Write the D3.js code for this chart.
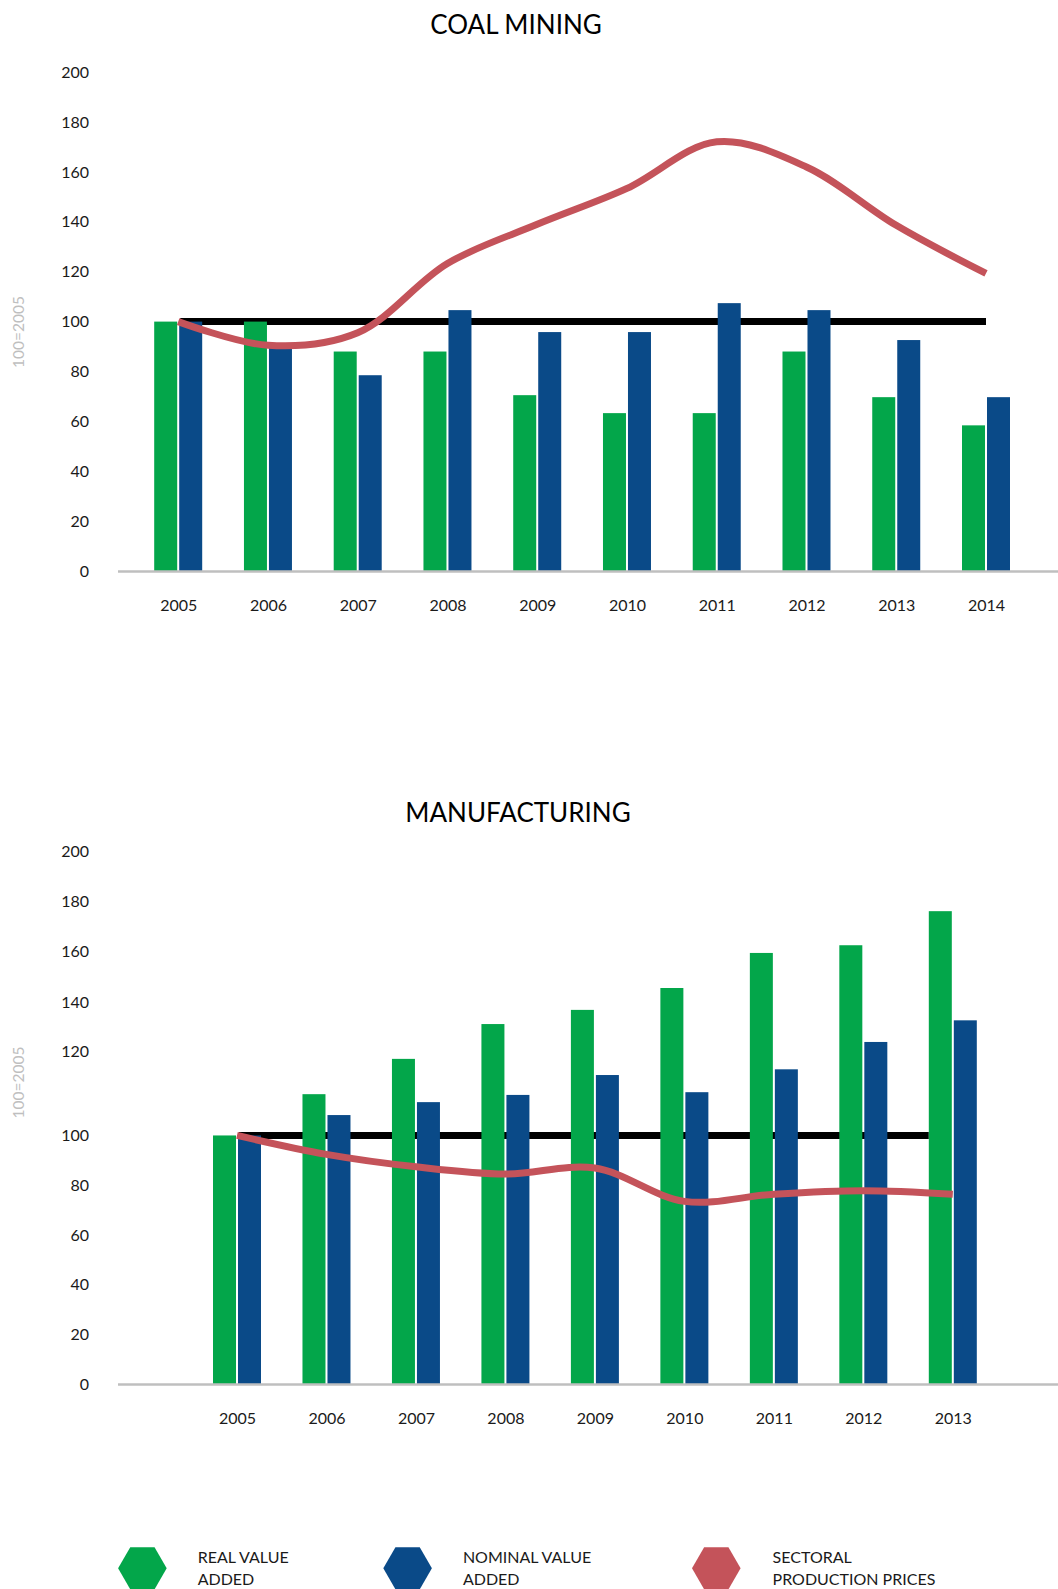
<!DOCTYPE html>
<html>
<head>
<meta charset="utf-8">
<script src="https://cdn.jsdelivr.net/npm/d3@7"></script>
<style>
  html, body { margin: 0; padding: 0; background: #ffffff; }
  svg { display: block; font-family: Lato, "Open Sans", sans-serif; }
</style>
</head>
<body>
<svg id="chart" width="1058" height="1589"></svg>
<script>
// ---------- DATA ----------
const coalYears = ["2005","2006","2007","2008","2009","2010","2011","2012","2013","2014"];
const coalReal = [100, 100, 88, 88, 70.5, 63.3, 63.3, 88, 69.7, 58.4];
const coalNominal = [100, 90, 78.5, 104.6, 95.8, 95.8, 107.4, 104.6, 92.6, 69.7];
const coalPrices = [100, 90.5, 95.5, 123.3, 139, 153.4, 172.1, 162.0, 138.6, 119.3];
const coalReference = [100, 100, 100, 100, 100, 100, 100, 100, 100, 100];
const coalTickValues = [0, 20, 40, 60, 80, 100, 120, 140, 160, 180, 200];
const coalTickLabels = ["0","20","40","60","80","100","120","140","160","180","200"];

const mfgYears = ["2005","2006","2007","2008","2009","2010","2011","2012","2013"];
const mfgReal = [100, 116.6, 130.8, 144.8, 150.5, 159.3, 173.4, 176.5, 190.2];
const mfgNominal = [100, 108.2, 113.4, 116.3, 124.3, 117.4, 126.6, 137.6, 146.3];
const mfgPrices = [100, 92.4, 87.4, 84.5, 86.9, 73.5, 76.4, 77.8, 76.4];
const mfgReference = [100, 100, 100, 100, 100, 100, 100, 100, 100];
// the manufacturing axis labels above 100 sit off the linear grid in the original
const mfgTickValues = [0, 20, 40, 60, 80, 100, 133.7, 153.7, 173.9, 194, 214.4];
const mfgTickLabels = ["0","20","40","60","80","100","120","140","160","180","200"];

const legendLabels = [["REAL VALUE","ADDED"],["NOMINAL VALUE","ADDED"],["SECTORAL","PRODUCTION PRICES"]];
const unitLabel = "100=2005";

// ---------- STYLE ----------
const GREEN = "#03A64A";
const BLUE = "#0A4A88";
const RED = "#C4535A";
const BLACK = "#000000";
const AXIS_GREY = "#BFBFBF";
const TEXT = "#1A1A1A";

const svg = d3.select("#chart");

function drawChart(cfg) {
  const g = svg.append("g");
  const x = d3.scalePoint().domain(cfg.years).range(cfg.xRange);
  const inner = d3.scaleBand().domain(["real","nominal"]).range([-24, 24]).paddingInner(0.08);
  const y = d3.scaleLinear().domain(cfg.yDomain).range(cfg.yRange);
  const base = y(0);

  // title
  g.append("text")
    .attr("x", cfg.titleX).attr("y", cfg.titleY)
    .attr("text-anchor", "middle")
    .attr("font-size", 26)
    .attr("fill", "#000")
    .text(cfg.title);

  // unit label
  g.append("text")
    .attr("transform", `translate(${cfg.unitX},${cfg.unitY}) rotate(-90)`)
    .attr("text-anchor", "middle")
    .attr("dy", "0.36em")
    .attr("font-size", 15.5)
    .attr("fill", AXIS_GREY)
    .text(unitLabel);

  // y axis (labels only)
  const yAxis = d3.axisLeft(y)
    .tickValues(cfg.tickValues)
    .tickFormat((d, i) => cfg.tickLabels[i])
    .tickSize(0).tickPadding(0);
  const ya = g.append("g").attr("transform", `translate(89,0)`).call(yAxis);
  ya.select(".domain").remove();
  ya.selectAll("text").attr("font-size", 16).attr("fill", TEXT).attr("font-family", "Lato, sans-serif");

  // reference line at 100
  const last = cfg.years.length - 1;
  const refX = (i) => {
    const cx = x(cfg.years[i]);
    if (i === 0) return cx + 2;
    if (i === last && cfg.refEndAtBar) return cx + inner("real");
    return cx;
  };
  const refLine = d3.line().x((d, i) => refX(i)).y(d => y(d));
  g.append("path")
    .datum(cfg.reference)
    .attr("d", refLine)
    .attr("fill", "none")
    .attr("stroke", BLACK)
    .attr("stroke-width", 7);

  // bars
  const rows = cfg.years.map((yr, i) => ({ year: yr, real: cfg.real[i], nominal: cfg.nominal[i] }));
  const grp = g.append("g").selectAll("g").data(rows).join("g")
    .attr("transform", d => `translate(${x(d.year)},0)`);
  grp.selectAll("rect")
    .data(d => [{ key: "real", v: d.real }, { key: "nominal", v: d.nominal }])
    .join("rect")
    .attr("x", d => inner(d.key))
    .attr("width", inner.bandwidth())
    .attr("y", d => y(d.v))
    .attr("height", d => base - y(d.v))
    .attr("fill", d => d.key === "real" ? GREEN : BLUE);

  // baseline
  g.append("line")
    .attr("x1", 118).attr("x2", 1058)
    .attr("y1", base + 0.5).attr("y2", base + 0.5)
    .attr("stroke", AXIS_GREY).attr("stroke-width", 2.5);

  // x axis labels
  const xAxis = d3.axisBottom(x).tickSize(0).tickPadding(cfg.xPad);
  const xa = g.append("g").attr("transform", `translate(0,${base})`).call(xAxis);
  xa.select(".domain").remove();
  xa.selectAll("text").attr("font-size", 16).attr("fill", TEXT).attr("font-family", "Lato, sans-serif");

  // smoothed price line
  const priceLine = d3.line()
    .x((d, i) => x(cfg.years[i]))
    .y(d => y(d))
    .curve(d3.curveCatmullRom.alpha(0.5));
  g.append("path")
    .datum(cfg.prices)
    .attr("d", priceLine)
    .attr("fill", "none")
    .attr("stroke", RED)
    .attr("stroke-width", 7)
    .attr("stroke-linecap", "butt");
}

drawChart({
  title: "COAL MINING", titleX: 516, titleY: 34,
  unitX: 18.6, unitY: 332,
  years: coalYears, real: coalReal, nominal: coalNominal, prices: coalPrices, reference: coalReference,
  xRange: [178.2, 986], yDomain: [0, 200], yRange: [571, 72.2],
  tickValues: coalTickValues, tickLabels: coalTickLabels, xPad: 29, refEndAtBar: false
});

drawChart({
  title: "MANUFACTURING", titleX: 518, titleY: 822,
  unitX: 18.6, unitY: 1082.5,
  years: mfgYears, real: mfgReal, nominal: mfgNominal, prices: mfgPrices, reference: mfgReference,
  xRange: [237, 952.8], yDomain: [0, 214.4], yRange: [1384.1, 851],
  tickValues: mfgTickValues, tickLabels: mfgTickLabels, xPad: 29, refEndAtBar: true
});

// ---------- LEGEND ----------
const legendColors = [GREEN, BLUE, RED];
const legendCx = [142.4, 407.6, 716.3];
const legendTextX = [197.7, 462.9, 772.6];
const hexR = 24.3, hexCy = 1568.3;
const hex = d3.range(6).map(k => {
  const a = Math.PI / 3 * k;
  return [hexR * Math.cos(a), hexR * Math.sin(a)];
});
const lg = svg.append("g").selectAll("g").data(legendLabels).join("g");
lg.append("path")
  .attr("d", (d, i) => "M" + hex.map(p => [legendCx[i] + p[0], hexCy + p[1]].join(",")).join("L") + "Z")
  .attr("fill", (d, i) => legendColors[i]);
lg.each(function(d, i) {
  const t = d3.select(this).append("text")
    .attr("x", legendTextX[i]).attr("y", 1563.3)
    .attr("font-size", 16).attr("fill", TEXT);
  d.forEach((line, j) => {
    t.append("tspan").attr("x", legendTextX[i]).attr("dy", j === 0 ? 0 : 21.7).text(line);
  });
});
</script>
</body>
</html>
